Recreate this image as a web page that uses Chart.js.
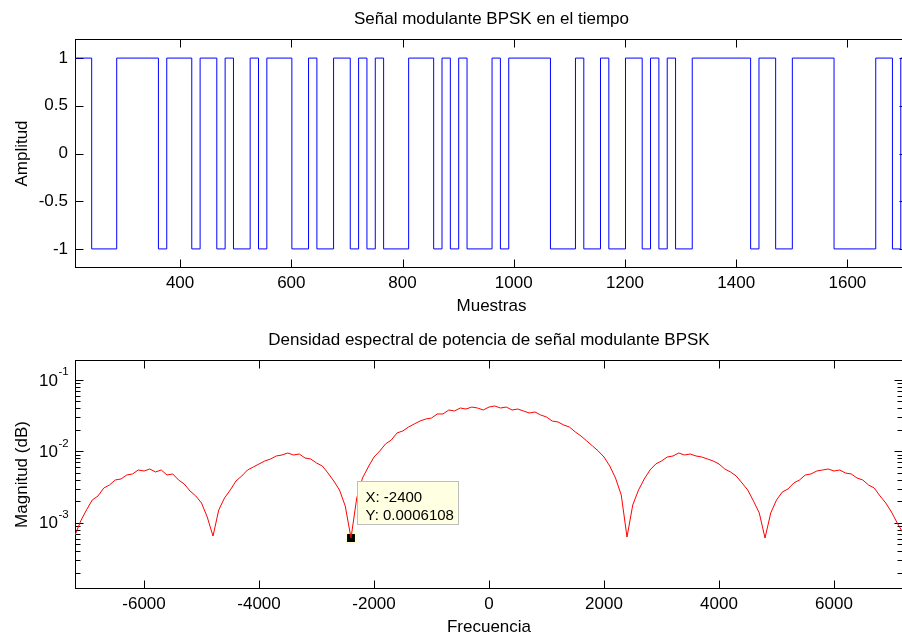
<!DOCTYPE html>
<html>
<head>
<meta charset="utf-8">
<script src="https://cdn.jsdelivr.net/npm/chart.js@4.4.1/dist/chart.umd.min.js"></script>
<style>
    html, body { margin: 0; padding: 0; background: #fff; overflow: hidden; }
    #wrap { position: relative; width: 902px; height: 637px; overflow: hidden; background: #fff; }
    canvas { position: absolute; left: 0; }
    #timeChart { top: 0; }
    #psdChart { top: 318px; }
</style>
</head>
<body>
<div id="wrap">
    <canvas id="timeChart" width="912" height="318"></canvas>
    <canvas id="psdChart" width="912" height="319"></canvas>
</div>
<script>
const FONT = '"Liberation Sans", Arial, Helvetica, sans-serif';

// BPSK signal: sample where the level changes, and the level from there on
const bitEdges = [
    200, 211, 241, 286, 361, 376, 421, 436, 466, 481,
    496, 526, 541, 556, 601, 631, 646, 676, 706, 721,
    736, 751, 766, 811, 856, 871, 886, 901, 916, 961,
    976, 991, 1066, 1111, 1126, 1156, 1171, 1201, 1231, 1246,
    1261, 1276, 1291, 1321, 1426, 1441, 1471, 1501, 1576, 1651,
    1681, 1696, 1720
];
const bitLevels = [
    -1, 1, -1, 1, -1, 1, -1, 1, -1, 1,
    -1, 1, -1, 1, -1, 1, -1, 1, -1, 1,
    -1, 1, -1, 1, -1, 1, -1, 1, -1, 1,
    -1, 1, -1, 1, -1, 1, -1, 1, -1, 1,
    -1, 1, -1, 1, -1, 1, -1, 1, -1, 1,
    -1, 1, 1
];
const timeTicks = [400, 600, 800, 1000, 1200, 1400, 1600];
const ampTicks = [-1, -0.5, 0, 0.5, 1];

// power spectral density
const psdFreq = [
    -7200, -7100, -7000, -6900, -6800, -6700, -6600, -6500, -6400, -6300,
    -6200, -6100, -6000, -5900, -5800, -5700, -5600, -5500, -5400, -5300,
    -5200, -5100, -5000, -4900, -4800, -4700, -4600, -4500, -4400, -4300,
    -4200, -4100, -4000, -3900, -3800, -3700, -3600, -3500, -3400, -3300,
    -3200, -3100, -3000, -2900, -2800, -2700, -2600, -2500, -2400, -2300,
    -2200, -2100, -2000, -1900, -1800, -1700, -1600, -1500, -1400, -1300,
    -1200, -1100, -1000, -900, -800, -700, -600, -500, -400, -300,
    -200, -100, 0, 100, 200, 300, 400, 500, 600, 700,
    800, 900, 1000, 1100, 1200, 1300, 1400, 1500, 1600, 1700,
    1800, 1900, 2000, 2100, 2200, 2300, 2400, 2500, 2600, 2700,
    2800, 2900, 3000, 3100, 3200, 3300, 3400, 3500, 3600, 3700,
    3800, 3900, 4000, 4100, 4200, 4300, 4400, 4500, 4600, 4700,
    4800, 4900, 5000, 5100, 5200, 5300, 5400, 5500, 5600, 5700,
    5800, 5900, 6000, 6100, 6200, 6300, 6400, 6500, 6600, 6700,
    6800, 6900, 7000, 7100, 7200
];
const psdMag = [
    0.00067, 0.00106, 0.00151, 0.00208, 0.00237, 0.00306, 0.00338, 0.00397, 0.00410, 0.00466,
    0.00482, 0.00548, 0.00530, 0.00566, 0.00514, 0.00548, 0.00466, 0.00482, 0.00397, 0.00349,
    0.00278, 0.00237, 0.00189, 0.00120, 0.00065, 0.00151, 0.00222, 0.00287, 0.00384, 0.00451,
    0.00548, 0.00603, 0.00665, 0.00732, 0.00781, 0.00861, 0.00889, 0.00948, 0.00889, 0.00918,
    0.00807, 0.00781, 0.00687, 0.00623, 0.00497, 0.00384, 0.00287, 0.00171, 0.0006108, 0.00222,
    0.00423, 0.00603, 0.00833, 0.0101, 0.0127, 0.0144, 0.0181, 0.0193, 0.0219, 0.0242,
    0.0266, 0.0284, 0.0293, 0.0334, 0.0334, 0.0380, 0.0368, 0.0405, 0.0392, 0.0418,
    0.0405, 0.0380, 0.0418, 0.0432, 0.0405, 0.0418, 0.0380, 0.0392, 0.0368, 0.0345,
    0.0356, 0.0323, 0.0303, 0.0266, 0.0258, 0.0234, 0.0219, 0.0187, 0.0164, 0.0140,
    0.0119, 0.0101, 0.00833, 0.00623, 0.00423, 0.00244, 0.00063, 0.00177, 0.00287, 0.00410,
    0.00548, 0.00665, 0.00732, 0.00833, 0.00861, 0.00948, 0.00889, 0.00918, 0.00861, 0.00833,
    0.00781, 0.00732, 0.00665, 0.00566, 0.00514, 0.00451, 0.00360, 0.00287, 0.00201, 0.00137,
    0.00061, 0.00137, 0.00208, 0.00269, 0.00297, 0.00360, 0.00397, 0.00466, 0.00482, 0.00530,
    0.00548, 0.00566, 0.00530, 0.00548, 0.00497, 0.00482, 0.00423, 0.00397, 0.00338, 0.00306,
    0.00237, 0.00189, 0.00141, 0.00099, 0.00072
];
const freqTicks = [-6000, -4000, -2000, 0, 2000, 4000, 6000];
const magMajorTicks = [1e-3, 1e-2, 1e-1];
const magTickExps = ['-3', '-2', '-1'];

const tipPoint = {x: -2400, y: 0.0006108};

// matlab style box: frame and ticks pointing inwards, text drawn by hand
const matlabAxes = {
    id: 'matlabAxes',
    beforeDatasetsDraw(chart, args, o) {
        const ctx = chart.ctx;
        const a = chart.chartArea;
        const xs = chart.scales.x, ys = chart.scales.y;
        const L = Math.round(a.left) + 0.5, R = Math.round(a.right) - 0.5;
        const T = Math.round(a.top) + 0.5, B = Math.round(a.bottom) - 0.5;
        ctx.save();
        ctx.strokeStyle = '#000';
        ctx.lineWidth = 1;
        ctx.strokeRect(L, T, R - L, B - T);
        ctx.beginPath();
        for (const v of o.xTicks) {
            const px = Math.round(xs.getPixelForValue(v)) + 0.5;
            ctx.moveTo(px, B); ctx.lineTo(px, B - 8);
            ctx.moveTo(px, T); ctx.lineTo(px, T + 8);
        }
        for (const v of o.yTicks) {
            const py = Math.round(ys.getPixelForValue(v)) + 0.5;
            ctx.moveTo(L, py); ctx.lineTo(L + 8, py);
            ctx.moveTo(R, py); ctx.lineTo(R - 8, py);
        }
        for (const v of (o.yMinor || [])) {
            const py = Math.round(ys.getPixelForValue(v)) + 0.5;
            ctx.moveTo(L, py); ctx.lineTo(L + 5, py);
            ctx.moveTo(R, py); ctx.lineTo(R - 5, py);
        }
        ctx.stroke();
        ctx.restore();
    },
    afterDraw(chart, args, o) {
        const ctx = chart.ctx;
        const a = chart.chartArea;
        const cx = (a.left + a.right) / 2;
        ctx.save();
        ctx.fillStyle = '#000';
        ctx.font = '17px ' + FONT;
        ctx.textAlign = 'center';
        ctx.textBaseline = 'middle';
        ctx.fillText(o.title, cx, a.top - 20);
        ctx.fillText(o.xLabel, cx, a.bottom + 38.5);
        ctx.save();
        ctx.translate(22, (a.top + a.bottom) / 2);
        ctx.rotate(-Math.PI / 2);
        ctx.fillText(o.yLabel, 0, 0);
        ctx.restore();

        if (o.logLabels) {
            const ys = chart.scales.y;
            o.logLabels.values.forEach((v, i) => {
                const py = ys.getPixelForValue(v);
                ctx.font = '17px ' + FONT;
                ctx.textAlign = 'right';
                ctx.textBaseline = 'middle';
                ctx.fillText('10', 58, py + 1);
                ctx.font = '11.5px ' + FONT;
                ctx.textAlign = 'left';
                ctx.fillText(o.logLabels.exps[i], 58.5, py - 8);
            });
        }

        if (o.tip) {
            const mx = chart.scales.x.getPixelForValue(o.tip.x);
            const my = chart.scales.y.getPixelForValue(o.tip.y);
            const bx = Math.round(mx) + 6.5, by = Math.round(my) - 56.5;
            ctx.fillStyle = '#ffffe1';
            ctx.strokeStyle = '#bdbdbd';
            ctx.lineWidth = 1;
            ctx.fillRect(bx, by, 101, 43);
            ctx.strokeRect(bx, by, 101, 43);
            ctx.fillStyle = '#000';
            ctx.font = '15px ' + FONT;
            ctx.textAlign = 'left';
            ctx.textBaseline = 'alphabetic';
            ctx.fillText('X: ' + o.tip.x, bx + 8, by + 20);
            ctx.fillText('Y: ' + o.tip.y, bx + 8, by + 38);
        }
        ctx.restore();
    }
};

function axisTicks(values) {
    return function(scale) {
        scale.ticks = values.map(v => ({value: v}));
    };
}

function logMinorTicks(min, max) {
    const out = [];
    for (let k = -5; k <= 0; k++) {
        for (let m = 2; m <= 9; m++) {
            const v = m * Math.pow(10, k);
            if (v > min && v < max) out.push(v);
        }
    }
    return out;
}

const tickFont = {family: FONT, size: 17};

new Chart(document.getElementById('timeChart'), {
    type: 'line',
    data: {
        datasets: [{
            data: bitEdges.map((s, i) => ({x: s, y: bitLevels[i]})),
            stepped: true,
            borderColor: '#0000ff',
            borderWidth: 1,
            pointRadius: 0,
            fill: false
        }]
    },
    options: {
        responsive: false,
        animation: false,
        devicePixelRatio: 1,
        events: [],
        layout: {padding: {top: 39, right: 4, left: 0, bottom: 0}},
        plugins: {
            legend: {display: false},
            tooltip: {enabled: false},
            matlabAxes: {
                title: 'Señal modulante BPSK en el tiempo',
                xLabel: 'Muestras',
                yLabel: 'Amplitud',
                xTicks: timeTicks,
                yTicks: ampTicks
            }
        },
        scales: {
            x: {
                type: 'linear',
                min: 211,
                max: 1709,
                afterFit: s => { s.height = 50; },
                afterBuildTicks: axisTicks(timeTicks),
                grid: {display: false, drawTicks: false},
                border: {display: false},
                ticks: {font: tickFont, color: '#000', padding: 5, maxRotation: 0, autoSkip: false, callback: v => String(v)}
            },
            y: {
                min: -1.2,
                max: 1.2,
                afterFit: s => { s.width = 75; },
                afterBuildTicks: axisTicks(ampTicks),
                grid: {display: false, drawTicks: false},
                border: {display: false},
                ticks: {font: tickFont, color: '#000', padding: 7, callback: v => String(v)}
            }
        }
    },
    plugins: [matlabAxes]
});

const magMin = 1.177e-4, magMax = 0.1907;

new Chart(document.getElementById('psdChart'), {
    type: 'line',
    data: {
        datasets: [{
            data: psdFreq.map((f, i) => ({x: f, y: psdMag[i]})),
            borderColor: '#ff0000',
            borderWidth: 1,
            pointRadius: 0,
            tension: 0,
            fill: false
        }, {
            data: [tipPoint],
            showLine: false,
            pointStyle: 'rect',
            pointRadius: 7,
            backgroundColor: '#000',
            borderColor: '#ffffd8',
            borderWidth: 2
        }]
    },
    options: {
        responsive: false,
        animation: false,
        devicePixelRatio: 1,
        events: [],
        layout: {padding: {top: 42, right: 4, left: 0, bottom: 0}},
        plugins: {
            legend: {display: false},
            tooltip: {enabled: false},
            matlabAxes: {
                title: 'Densidad espectral de potencia de señal modulante BPSK',
                xLabel: 'Frecuencia',
                yLabel: 'Magnitud (dB)',
                xTicks: freqTicks,
                yTicks: magMajorTicks,
                yMinor: logMinorTicks(magMin, magMax),
                logLabels: {values: magMajorTicks, exps: magTickExps},
                tip: tipPoint
            }
        },
        scales: {
            x: {
                type: 'linear',
                min: -7200,
                max: 7200,
                afterFit: s => { s.height = 48; },
                afterBuildTicks: axisTicks(freqTicks),
                grid: {display: false, drawTicks: false},
                border: {display: false},
                ticks: {font: tickFont, color: '#000', padding: 5, maxRotation: 0, autoSkip: false, callback: v => String(v)}
            },
            y: {
                type: 'logarithmic',
                min: magMin,
                max: magMax,
                afterFit: s => { s.width = 75; },
                grid: {display: false, drawTicks: false},
                border: {display: false},
                ticks: {display: false}
            }
        }
    },
    plugins: [matlabAxes]
});
</script>
</body>
</html>
